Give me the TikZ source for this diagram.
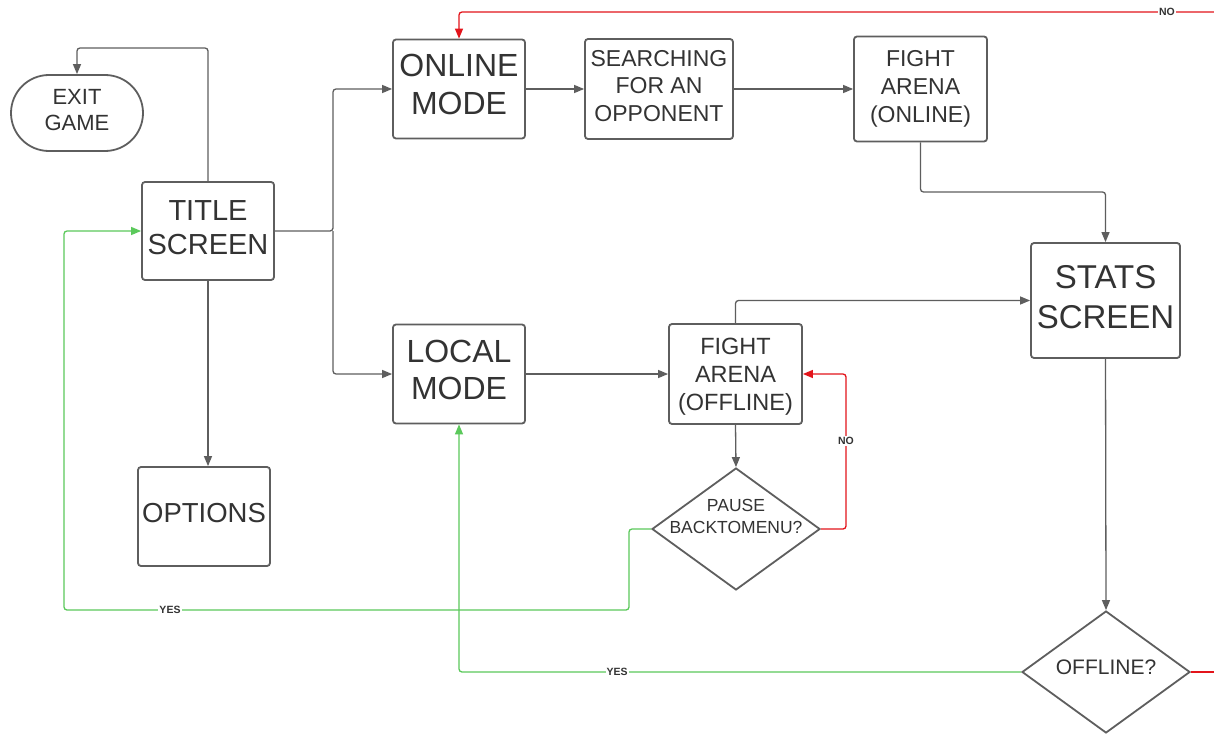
\documentclass[tikz,border=0pt]{standalone}
\usepackage{fontspec}
\setmainfont{Liberation Sans}
\usetikzlibrary{shapes.geometric,arrows.meta}
\definecolor{ln}{HTML}{5E5E5E}
\definecolor{tx}{HTML}{333333}
\definecolor{gr}{HTML}{5BC95B}
\definecolor{rd}{HTML}{E3141B}
\tikzset{
  box/.style={draw=ln, line width=1.8pt, rounded corners=3pt, fill=white, inner sep=0pt},
  dia/.style={diamond, draw=ln, line width=1.8pt, fill=white, inner sep=0pt, minimum width=168, minimum height=122},
  txt/.style={align=center, text=tx, inner sep=0pt},
  conn/.style={draw=ln, line width=1.3pt, rounded corners=3pt, -{Triangle[length=10pt,width=8pt]}},
  gconn/.style={conn, draw=gr, -{Triangle[length=10pt,width=8pt]}},
  rconn/.style={conn, draw=rd, -{Triangle[length=10pt,width=8pt]}},
  lbl/.style={font=\bfseries\fontsize{10.5}{12}\selectfont, text=tx, fill=white, inner sep=1pt}
}
\begin{document}
\begin{tikzpicture}[x=1pt,y=-1pt]
\useasboundingbox[fill=white] (0,0) rectangle (1214,733);
% shapes
\node[box, rounded corners=38pt, minimum width=132, minimum height=76] (exit) at (77,113) {};
\node[box, minimum width=132, minimum height=98] (title) at (208,231) {};
\node[box, minimum width=132, minimum height=99] (online) at (459,89) {};
\node[box, minimum width=148, minimum height=100] (search) at (659,89) {};
\node[box, minimum width=133, minimum height=105] (fon) at (920.5,89) {};
\node[box, minimum width=149, minimum height=115] (stats) at (1105.5,300.5) {};
\node[box, minimum width=132, minimum height=99] (local) at (459,374) {};
\node[box, minimum width=133, minimum height=100] (foff) at (735.5,374) {};
\node[box, minimum width=132, minimum height=99] (options) at (204,516.5) {};
\node[dia] (pause) at (736,529) {};
\node[dia] (offline) at (1106,672) {};
% texts
\node[txt, font=\fontsize{22}{26}\selectfont] (exitT) at (77,110) {EXIT\\GAME};
\node[txt, font=\fontsize{29}{34}\selectfont] (titleT) at (208,228) {TITLE\\SCREEN};
\node[txt, font=\fontsize{32}{38}\selectfont] (onlineT) at (459,84.5) {ONLINE\\MODE};
\node[txt, font=\fontsize{23}{27.5}\selectfont] (searchT) at (659,86) {SEARCHING\\FOR AN\\OPPONENT};
\node[txt, font=\fontsize{23}{28}\selectfont] (fonT) at (920.5,89) {FIGHT\\ARENA\\(ONLINE)};
\node[txt, font=\fontsize{33}{40}\selectfont] (statsT) at (1105.5,297.5) {STATS\\SCREEN};
\node[txt, font=\fontsize{32}{37}\selectfont] (localT) at (459,369.5) {LOCAL\\MODE};
\node[txt, font=\fontsize{23.5}{28}\selectfont] (foffT) at (735.5,377) {FIGHT\\ARENA\\(OFFLINE)};
\node[txt, font=\fontsize{27.5}{30}\selectfont] (optionsT) at (204,513.5) {OPTIONS};
\node[txt, font=\fontsize{17.5}{22}\selectfont] (pauseT) at (736,516) {PAUSE\\BACKTOMENU?};
\node[txt, font=\fontsize{21}{25}\selectfont] (offlineT) at (1106,667) {OFFLINE?};
% coordinates
\coordinate (split) at (333,231);
\coordinate (exitTop) at (208,48);
\coordinate (fonTurn) at (920.5,192);
\coordinate (pauseR) at (846,529);
\coordinate (pauseL) at (629,610);
\coordinate (yesL) at (64,610);
\coordinate (edgeB) at (1220,672);
\coordinate (edgeT) at (1220,12);
% connectors
\draw[conn] (title.north) -- (exitTop) -| (exit.north);
\draw[conn] (title.east) -- (split) |- (online.west);
\draw[conn] (split) |- (local.west);
\draw[conn] (title.south) -- (title.south |- options.north);
\draw[conn] (online.east) -- (search.west);
\draw[conn] (search.east) -- (fon.west);
\draw[conn] (fon.south) -- (fonTurn) -| (stats.north);
\draw[conn] (foff.north) |- (stats.west);
\draw[conn] (local.east) -- (foff.west);
\draw[conn] (foff.south) -- (pause.north);
\draw[conn] (stats.south) -- (offline.north);
\draw[rconn] (pause.east) -- (pauseR) |- (foff.east);
\node[lbl] (noA) at (846,441) {NO};
\draw[gconn] (pause.west) -| (pauseL) -- (yesL) |- (title.west);
\node[lbl] (yesA) at (170,610) {YES};
\draw[gconn] (offline.west) -| (local.south);
\node[lbl] (yesB) at (617,672) {YES};
\draw[conn, draw=rd, -] (offline.east) -- (edgeB);
\draw[rconn] (edgeT) -| (online.north);
\node[lbl] (noB) at (1167,12) {NO};
\end{tikzpicture}
\end{document}
